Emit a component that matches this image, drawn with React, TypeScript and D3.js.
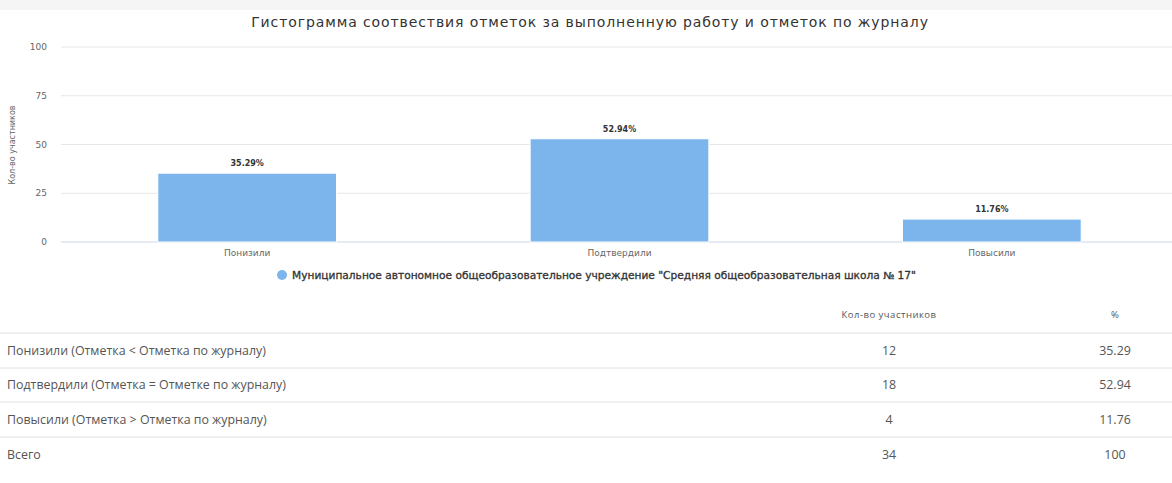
import React from "react";
import * as d3 from "d3";

const categories = ["Понизили", "Подтвердили", "Повысили"];
const percentValues = [35.29, 52.94, 11.76];
const yTicks = [0, 25, 50, 75, 100];
const tableLabels = [
  "Понизили (Отметка < Отметка по журналу)",
  "Подтвердили (Отметка = Отметке по журналу)",
  "Повысили (Отметка > Отметка по журналу)",
  "Всего",
];
const tableCounts = ["12", "18", "4", "34"];
const tablePercents = ["35.29", "52.94", "11.76", "100"];
const seriesName =
  'Муниципальное автономное общеобразовательное учреждение "Средняя общеобразовательная школа № 17"';
const chartTitle = "Гистограмма соотвествия отметок за выполненную работу и отметок по журналу";
const yAxisTitle = "Кол-во участников";

const W = 1172;
const H = 483;
const chartFont = "'DejaVu Sans', Verdana, sans-serif";
const tableFont = "'Open Sans', Roboto, sans-serif";

export default function App() {
  const x = d3.scaleBand<string>().domain(categories).range([61, 1178]).paddingInner(0).paddingOuter(0);
  const y = d3.scaleLinear().domain([0, 100]).range([242, 47]);
  const barW = x.bandwidth() * 0.48;
  const rowLines = [333, 368, 402, 437];
  const rowY = [351, 385, 420, 455];

  return (
    <svg
      width={W}
      height={H}
      style={{ position: "absolute", left: 0, top: 0, background: "#fff" }}
    >
      <rect x={0} y={0} width={W} height={10} fill="#f5f5f5" />
      <text
        x={590}
        y={27}
        textAnchor="middle"
        fontFamily={chartFont}
        fontSize={14}
        fill="#333"
        letterSpacing={0.9}
      >
        {chartTitle}
      </text>
      {yTicks.map((t) => (
        <g key={t}>
          <line
            x1={61}
            x2={W}
            y1={y(t)}
            y2={y(t)}
            stroke={t === 0 ? "#ccd6eb" : "#e6e6e6"}
            strokeWidth={1}
          />
          <text
            x={47}
            y={y(t) + 3}
            textAnchor="end"
            fontFamily={chartFont}
            fontSize={9}
            fill="#666"
          >
            {t}
          </text>
        </g>
      ))}
      <text
        transform={`translate(15,145) rotate(-90)`}
        textAnchor="middle"
        fontFamily={chartFont}
        fontSize={8}
        fill="#666"
      >
        {yAxisTitle}
      </text>
      {categories.map((c, i) => {
        const cx = (x(c) as number) + x.bandwidth() / 2;
        const v = percentValues[i];
        return (
          <g key={c}>
            <rect
              x={cx - barW / 2}
              y={y(v)}
              width={barW}
              height={y(0) - y(v)}
              fill="#7cb5ec"
              stroke="#fff"
              strokeWidth={1}
            />
            <text
              x={cx}
              y={y(v) - 7}
              textAnchor="middle"
              fontFamily={chartFont}
              fontSize={8}
              fontWeight="bold"
              fill="#333"
            >
              {v.toFixed(2) + "%"}
            </text>
            <text
              x={cx}
              y={256}
              textAnchor="middle"
              fontFamily={chartFont}
              fontSize={9}
              fill="#666"
            >
              {c}
            </text>
          </g>
        );
      })}
      <circle cx={282} cy={275} r={5} fill="#7cb5ec" />
      <text
        x={292}
        y={279}
        fontFamily={chartFont}
        fontSize={10}
        fill="#333"
        stroke="#333"
        strokeWidth={0.3}
        textLength={624}
        lengthAdjust="spacingAndGlyphs"
      >
        {seriesName}
      </text>

      <text x={889} y={318} textAnchor="middle" fontFamily={tableFont} fontSize={9.5} letterSpacing={0.5} fill="#555">
        Кол-во участников
      </text>
      <text x={1115} y={318} textAnchor="middle" fontFamily={tableFont} fontSize={9.5} fill="#555">
        %
      </text>
      {rowLines.map((ly) => (
        <line key={ly} x1={0} x2={W} y1={ly} y2={ly} stroke="#e0e0e0" strokeWidth={1} />
      ))}
      {tableLabels.map((l, i) => (
        <g key={l}>
          <text x={7} y={rowY[i] + 4} fontFamily={tableFont} fontSize={12.4} fill="#555">
            {l}
          </text>
          <text x={889} y={rowY[i] + 4} textAnchor="middle" fontFamily={tableFont} fontSize={12.4} fill="#555">
            {tableCounts[i]}
          </text>
          <text x={1115} y={rowY[i] + 4} textAnchor="middle" fontFamily={tableFont} fontSize={12.4} fill="#555">
            {tablePercents[i]}
          </text>
        </g>
      ))}
    </svg>
  );
}
